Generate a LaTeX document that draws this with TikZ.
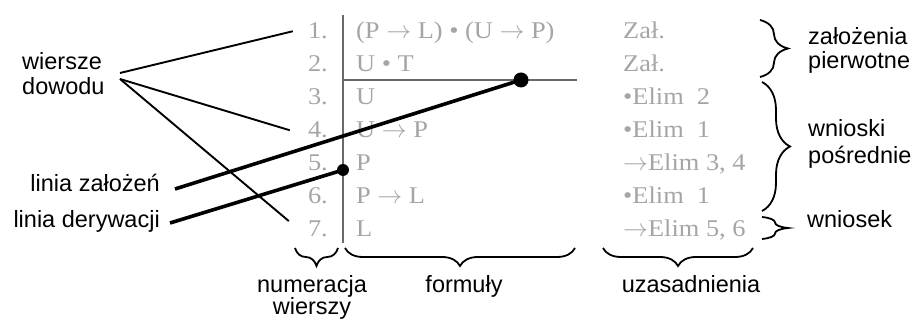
\documentclass[tikz,border=0pt]{standalone}
\usepackage{fontspec}
\setmainfont{Liberation Serif}[FakeStretch=1.1]
\newfontfamily\labfont{Liberation Sans}
\usetikzlibrary{decorations.pathreplacing,calc}
\definecolor{gtext}{RGB}{165,165,165}
\definecolor{gline}{RGB}{105,105,105}
\newcommand\rarr{\(\rightarrow\)}
\begin{document}
\begin{tikzpicture}[x=1pt,y=-1pt,
  num/.style={anchor=base east, inner sep=0pt, text=gtext, font=\fontsize{24}{24}\selectfont},
  frm/.style={anchor=base west, inner sep=0pt, text=gtext, font=\fontsize{24}{24}\selectfont},
  lab/.style={inner sep=0pt, text=black, font=\labfont\fontsize{23.5}{25}\selectfont},
  brc/.style={decorate, decoration={brace, amplitude=#1}, line width=1.8pt},
  ptr/.style={line width=1.9pt},
  lnk/.style={line width=3.6pt},
  dotnode/.style={circle, fill=black, inner sep=0pt, minimum size=#1},
  gridline/.style={draw=gline, line width=1.3pt},
]
\useasboundingbox (0,0) rectangle (914,320);

% line numbers
\node[num] (n1) at (328,39)  {1.};
\node[num] (n2) at (328,72)  {2.};
\node[num] (n3) at (328,105) {3.};
\node[num] (n4) at (328,138) {4.};
\node[num] (n5) at (328,171) {5.};
\node[num] (n6) at (328,204) {6.};
\node[num] (n7) at (328,237) {7.};

% formulas
\node[frm] (f1) at (356,39)  {(P \rarr{} L) • (U \rarr{} P)};
\node[frm] (f2) at (356,72)  {U • T};
\node[frm] (f3) at (356,105) {U};
\node[frm] (f4) at (356,138) {U \rarr{} P};
\node[frm] (f5) at (356,171) {P};
\node[frm] (f6) at (356,204) {P \rarr{} L};
\node[frm] (f7) at (356,237) {L};

% justifications
\node[frm] (j1) at (623,39)  {Zał.};
\node[frm] (j2) at (623,72)  {Zał.};
\node[frm] (j3) at (623,105) {•Elim\ \ 2};
\node[frm] (j4) at (623,138) {•Elim\ \ 1};
\node[frm] (j5) at (623,171) {\rarr{}Elim 3, 4};
\node[frm] (j6) at (623,204) {•Elim\ \ 1};
\node[frm] (j7) at (623,237) {\rarr{}Elim 5, 6};

% proof lines
\coordinate (vtop) at (343,15);
\coordinate (vbot) at (343,243);
\coordinate (hl) at (343,80);
\coordinate (hr) at (577,80);
\draw[gridline] (vtop) -- (vbot);
\draw[gridline] (hl) -- (hr);

% dots
\node[dotnode=15pt] (d1) at (521,80) {};
\node[dotnode=12pt] (d2) at (343,170) {};

% left labels
\node[lab, anchor=base west] (w1) at (22,70) {wiersze};
\node[lab, anchor=base west] (w2) at (22,95) {dowodu};
\coordinate (ws1) at (120,73);
\coordinate (ws2) at (120,79);
\draw[ptr] (ws1) -- ([xshift=-15pt]n1.west);
\draw[ptr] (ws2) -- ([xshift=-18pt]n4.west);
\draw[ptr] (ws2) -- ([xshift=-19pt]n7.north west);

\node[lab, anchor=base east] (lz) at (160,192) {linia założeń};
\node[lab, anchor=base east] (ld) at (160,228) {linia derywacji};
\coordinate (lzs) at (175,189);
\coordinate (lds) at (170,223);
\draw[lnk] (lzs) -- (d1.center);
\draw[lnk] (lds) -- (d2.center);

% bottom braces
\draw[brc=18pt] (338,248) -- (295,248);
\draw[brc=18pt] (575,248) -- (345,248);
\draw[brc=18pt] (753,248) -- (603,248);
\node[lab, anchor=base] (b1a) at (312,293) {numeracja};
\node[lab, anchor=base] (b1b) at (312,315) {wierszy};
\node[lab, anchor=base] (b2) at (464,293) {formuły};
\node[lab, anchor=base] (b3) at (691,293) {uzasadnienia};

% right braces
\draw[brc=28pt] (760,20) -- (760,77);
\draw[brc=28pt] (762,82) -- (762,211);
\draw[brc=26pt] (762,217) -- (762,239);
\node[lab, anchor=base west] (r1a) at (808,45) {założenia};
\node[lab, anchor=base west] (r1b) at (808,69) {pierwotne};
\node[lab, anchor=base west] (r2a) at (808,137) {wnioski};
\node[lab, anchor=base west] (r2b) at (808,164) {pośrednie};
\node[lab, anchor=base west] (r3) at (807,228) {wniosek};
\end{tikzpicture}
\end{document}
